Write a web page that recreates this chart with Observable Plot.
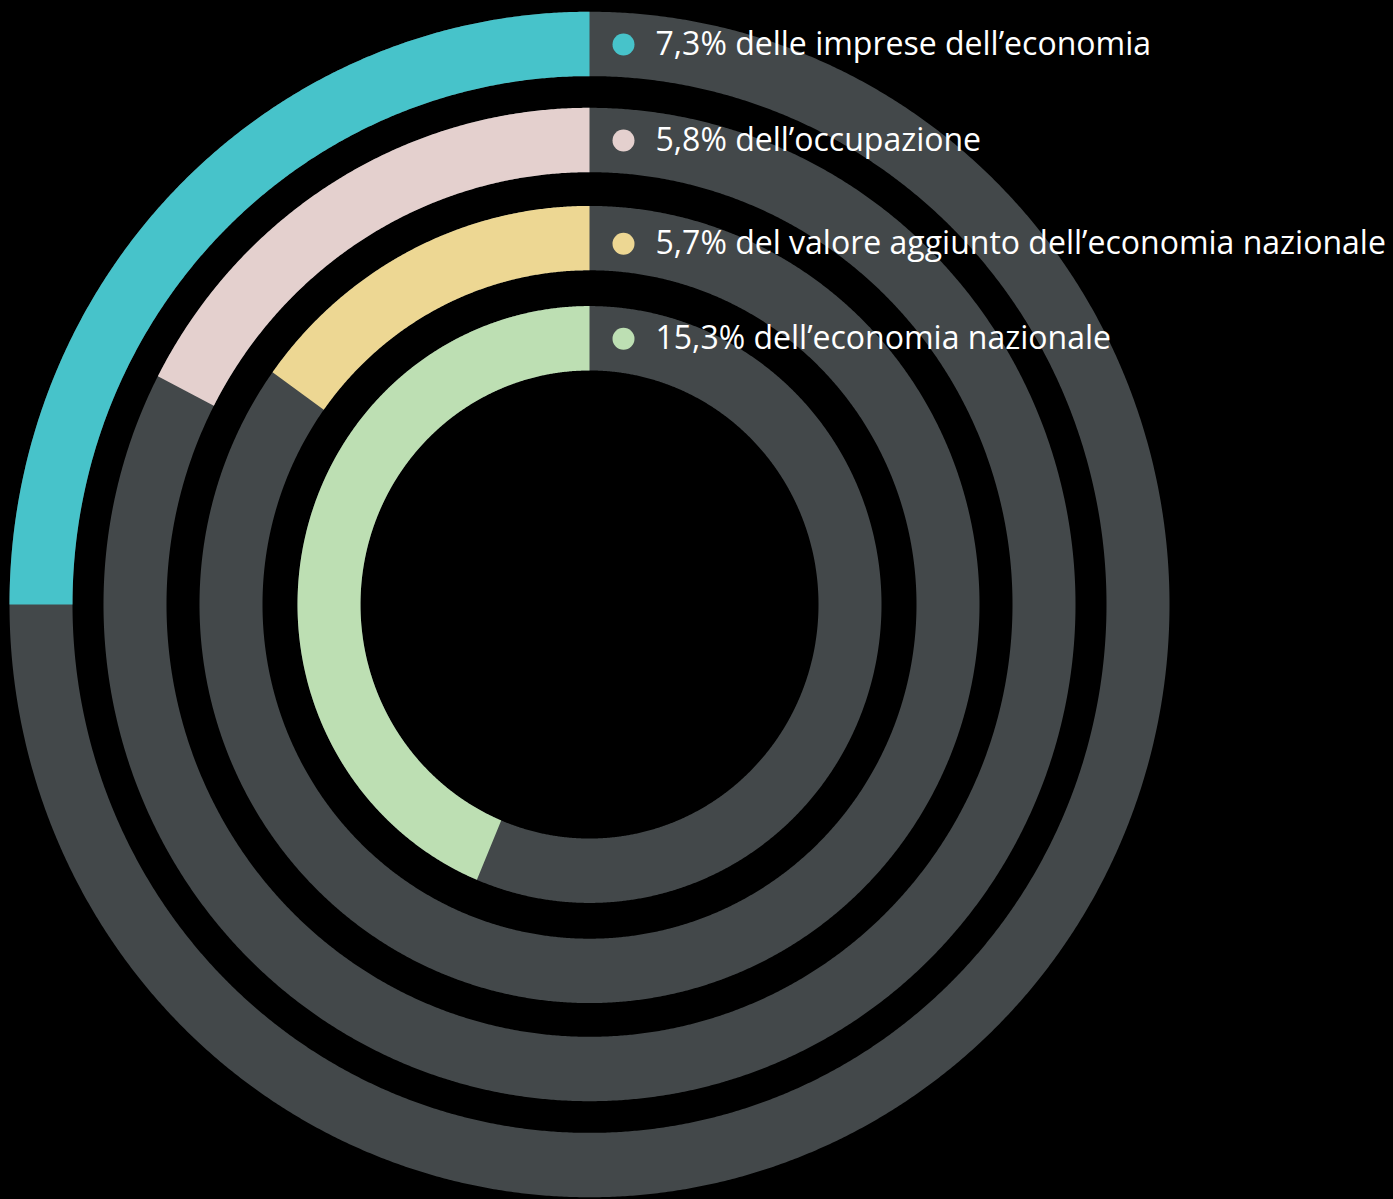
<!DOCTYPE html>
<html><head><meta charset="utf-8">
<script src="https://cdn.jsdelivr.net/npm/d3@7"></script>
<script src="https://cdn.jsdelivr.net/npm/@observablehq/plot@0.6"></script>
<style>html,body{margin:0;padding:0;background:#000;overflow:hidden;}</style>
</head><body><div id="chart"></div>
<script>
// ---- data ----
const labels = [
  "7,3% delle imprese dell’economia",
  "5,8% dell’occupazione",
  "5,7% del valore aggiunto dell’economia nazionale",
  "15,3% dell’economia nazionale"
];
const values = [7.3, 5.8, 5.7, 15.3];
// filled share of each ring, as % of the full circle (measured on the picture)
const arcShare = [25.0, 17.4, 15.1, 43.7];
const colors = ["#47c3ca", "#e4d0ce", "#edd793", "#bddfb3"];
const trackColor = "#43484a";

// ---- layout ----
const W = 1393, H = 1199, cx = 589.5, cy = 604.5, k = 1.022;
const ringOuter = [580, 486, 390, 292], band = 63;
const labelShift = [0, 0, -5, 0]; // small vertical nudges of the labels

function arcPoints(i, share, key, color) {
  const ro = ringOuter[i], ri = ro - band;
  const end = -share / 100 * 2 * Math.PI;
  const n = Math.max(2, Math.ceil(Math.abs(share) / 100 * 1440));
  return d3.range(n + 1).map(j => {
    const t = end * j / n;
    return {key, color,
      x1: ro * Math.sin(t), y1: ro * Math.cos(t),
      x2: ri * Math.sin(t), y2: ri * Math.cos(t)};
  });
}

const tracks = labels.flatMap((l, i) => arcPoints(i, 100, "t" + i, trackColor));
const arcs = labels.flatMap((l, i) => arcPoints(i, arcShare[i], "a" + i, colors[i]));
const legend = labels.map((l, i) => ({
  label: l, value: values[i], color: colors[i],
  y: ringOuter[i] - band / 2 + labelShift[i]
}));

const chart = Plot.plot({
  width: W, height: H,
  margin: 0,
  x: {domain: [-cx, W - cx], axis: null},
  y: {domain: [-(H - cy) / k, cy / k], axis: null},
  color: {type: "identity"},
  style: {background: "#000"},
  marks: [
    Plot.area(tracks, {x1: "x1", y1: "y1", x2: "x2", y2: "y2", z: "key", fill: "color"}),
    Plot.area(arcs, {x1: "x1", y1: "y1", x2: "x2", y2: "y2", z: "key", fill: "color"}),
    Plot.dot(legend, {x: () => 33.5, y: "y", r: 11, fill: "color", stroke: null}),
    Plot.text(legend, {x: () => 65.5, y: "y", text: "label", textAnchor: "start",
      fill: "#ffffff", fontSize: 32, fontFamily: "Open Sans"})
  ]
});
document.getElementById("chart").appendChild(chart);
</script>
</body></html>
